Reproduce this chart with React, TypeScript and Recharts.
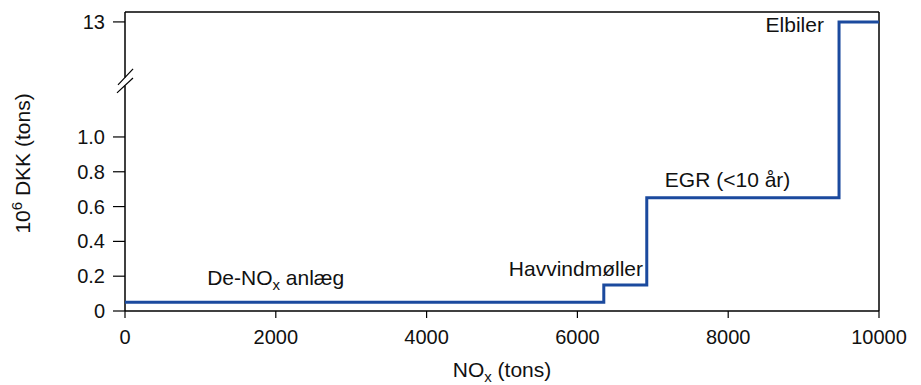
import React from 'react';
import { LineChart, Line, XAxis, YAxis, ReferenceLine, ReferenceDot } from 'recharts';

// ---- data ----
const noxTons = [0, 6350, 6920, 9470, 10000];
const costValues = [0.05, 0.15, 0.65, 13, 13];
const xTicks = [0, 2000, 4000, 6000, 8000, 10000];
const yTicksLow = [0, 0.2, 0.4, 0.6, 0.8, 1.0];
const yTicksHigh = [13];
const labelNames = ['De-NOx anlæg', 'Havvindmøller', 'EGR (<10 år)', 'Elbiler'];
const labelX = [1090, 6870, 7160, 9270];
const labelY = [0.15, 0.2, 0.71, 11.8];
const labelAnchor = ['start', 'end', 'start', 'end'];

// ---- broken y axis mapping ----
const HIGH_POS = 1.661;
const Y_MAX = 1.718;
const mapY = (v: number) => (v > 1.2 ? HIGH_POS + (v - 13) * 0.05 : v);

const data = noxTons.map((x, i) => ({ x, y: mapY(costValues[i]) }));
const yTickPositions = [...yTicksLow, ...yTicksHigh.map(mapY)];
const yTickLabels = [...yTicksLow.map((v) => (v === 0 ? '0' : v.toFixed(1))), ...yTicksHigh.map(String)];

const FONT = '"Liberation Sans", Arial, Helvetica, sans-serif';
const LINE = '#1b4a9e';
const TICK_FS = 20;
const LABEL_FS = 21;

const renderRich = (text: string) => {
  const parts = text.split('NOx');
  const out: any[] = [];
  parts.forEach((p, i) => {
    if (i > 0) {
      out.push(<tspan key={'n' + i}>NO</tspan>);
      out.push(<tspan key={'x' + i} dy={5} fontSize={15}>x</tspan>);
      out.push(<tspan key={'r' + i} dy={-5}>{p}</tspan>);
    } else if (p) {
      out.push(<tspan key={'p' + i}>{p}</tspan>);
    }
  });
  return out;
};

const XTick = (props: any) => {
  const { x, y, payload } = props;
  return (
    <text x={x} y={y} dy="0.71em" textAnchor="middle" fontSize={TICK_FS} fontFamily={FONT} fill="#111">
      {payload.value}
    </text>
  );
};

const YTick = (props: any) => {
  const { x, y, payload } = props;
  const idx = yTickPositions.findIndex((v) => Math.abs(v - payload.value) < 1e-6);
  return (
    <text x={x} y={y} dy="0.355em" textAnchor="end" fontSize={TICK_FS} fontFamily={FONT} fill="#111">
      {idx >= 0 ? yTickLabels[idx] : ''}
    </text>
  );
};

const XLabel = (props: any) => {
  const vb = props.viewBox || { x: 125, y: 311, width: 754 };
  return (
    <text x={vb.x + vb.width / 2} y={vb.y + 66} textAnchor="middle" fontSize={LABEL_FS} fontFamily={FONT} fill="#111">
      {renderRich('NOx (tons)')}
    </text>
  );
};

const YLabel = (props: any) => {
  const vb = props.viewBox || { x: 5, y: 12, height: 299 };
  const cx = vb.x + 17;
  const cy = vb.y + vb.height / 2 + 2;
  return (
    <text
      transform={`translate(${cx},${cy}) rotate(-90)`}
      textAnchor="middle"
      dominantBaseline="central"
      fontSize={LABEL_FS}
      fontFamily={FONT}
      fill="#111"
    >
      <tspan>10</tspan>
      <tspan dy={-6} fontSize={15}>6</tspan>
      <tspan dy={6}> DKK (tons)</tspan>
    </text>
  );
};

export default function App() {
  return (
    <div style={{ position: 'absolute', left: 0, top: 0, background: '#fff' }}>
      <LineChart width={921} height={385} data={data} margin={{ top: 12, right: 42, bottom: 24, left: 5 }}>
        <XAxis
          type="number"
          dataKey="x"
          domain={[0, 10000]}
          ticks={xTicks}
          tickSize={7}
          tickMargin={12}
          height={50}
          axisLine={{ stroke: '#000', strokeWidth: 1.5 }}
          tickLine={{ stroke: '#000', strokeWidth: 1.2 }}
          tick={<XTick />}
          label={{ content: XLabel } as any}
        />
        <YAxis
          type="number"
          domain={[0, Y_MAX]}
          ticks={yTickPositions}
          allowDataOverflow
          width={120}
          tickSize={12}
          tickMargin={8}
          axisLine={false}
          tickLine={{ stroke: '#000', strokeWidth: 1.2 }}
          tick={<YTick />}
          label={{ content: YLabel } as any}
        />
        {/* frame */}
        <ReferenceLine y={Y_MAX} stroke="#000" strokeWidth={1.5} ifOverflow="visible" />
        <ReferenceLine x={10000} stroke="#000" strokeWidth={1.5} ifOverflow="visible" />
        {/* broken y axis line */}
        <ReferenceLine segment={[{ x: 0, y: 0 }, { x: 0, y: 1.296 }]} stroke="#000" strokeWidth={1.5} ifOverflow="visible" />
        <ReferenceLine segment={[{ x: 0, y: 1.342 }, { x: 0, y: Y_MAX }]} stroke="#000" strokeWidth={1.5} ifOverflow="visible" />
        <ReferenceLine segment={[{ x: -93, y: 1.299 }, { x: 107, y: 1.391 }]} stroke="#000" strokeWidth={1.2} ifOverflow="visible" />
        <ReferenceLine segment={[{ x: -106, y: 1.253 }, { x: 106, y: 1.339 }]} stroke="#000" strokeWidth={1.2} ifOverflow="visible" />
        <Line
          type="stepAfter"
          dataKey="y"
          stroke={LINE}
          strokeWidth={3}
          dot={false}
          isAnimationActive={false}
        />
        {labelNames.map((name, i) => (
          <ReferenceDot
            key={name}
            x={labelX[i]}
            y={mapY(labelY[i])}
            r={0}
            ifOverflow="visible"
            shape={(p: any) => (
              <text x={p.cx} y={p.cy} textAnchor={labelAnchor[i] as any} fontSize={LABEL_FS} fontFamily={FONT} fill="#111">
                {renderRich(name)}
              </text>
            )}
          />
        ))}
      </LineChart>
    </div>
  );
}
